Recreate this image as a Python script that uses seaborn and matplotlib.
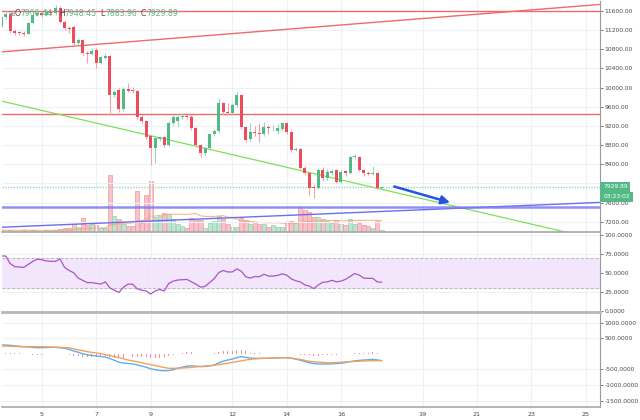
import numpy as np
import pandas as pd
import matplotlib
matplotlib.use("Agg")
import matplotlib.pyplot as plt
import seaborn as sns

# ---- 4h candles, BTC/USD, March 2018 ----
open_px = [11266, 11475, 11540, 11182, 11150, 11140, 11130, 11350, 11516, 11560,
           11520, 11580, 11550, 11660, 11370, 11250, 11266, 10932, 10994, 10723,
           10702, 10786, 10514, 10619, 10660, 9846, 9951, 9554, 9971, 9951,
           9930, 9387, 9303, 8990, 8740, 8927, 8969, 8802, 9262, 9300,
           9387, 9400, 9380, 9157, 8802, 8635, 8740, 9032, 9094, 9670,
           9491, 9470, 9640, 9846, 9178, 8927, 9074, 9060, 9030, 9178,
           9150, 9100, 9137, 9262, 9074, 8698, 8719, 8322, 8218, 7925,
           7904, 8280, 8113, 8218, 8280, 8030, 8259, 8218, 8552, 8552,
           8280, 8218, 8197, 8218, 7906.44]
high_px = [11560, 11600, 11560, 11220, 11190, 11180, 11380, 11560, 11620, 11600,
           11640, 11620, 11725, 11700, 11400, 11280, 11300, 11030, 11020, 10760,
           10800, 10820, 10660, 10720, 10680, 9960, 10000, 10010, 10097, 10020,
           9960, 9420, 9330, 9020, 8980, 9000, 9000, 9300, 9430, 9450,
           9470, 9460, 9420, 9180, 8830, 8770, 9060, 9130, 9780, 9700,
           9680, 9680, 9909, 9870, 9200, 9260, 9200, 9260, 9280, 9220,
           9220, 9240, 9290, 9280, 9090, 8760, 8740, 8360, 8240, 7980,
           8320, 8340, 8300, 8300, 8300, 8280, 8290, 8570, 8614, 8580,
           8300, 8250, 8364, 8240, 7948.45]
low_px = [11240, 11440, 11150, 11100, 11090, 11080, 11110, 11320, 11490, 11480,
          11500, 11520, 11520, 11340, 11200, 11150, 10880, 10900, 10680, 10520,
          10680, 10420, 10490, 10600, 9429, 9800, 9500, 9520, 9900, 9880,
          9350, 9270, 8920, 8385, 8426, 8880, 8760, 8780, 9230, 9200,
          9340, 9350, 9120, 8760, 8560, 8600, 8720, 9000, 9060, 9440,
          9420, 9440, 9600, 9130, 8870, 8880, 9000, 8870, 9000, 9040,
          9100, 9040, 9100, 9040, 8660, 8670, 8300, 8180, 7758, 7696,
          7880, 8060, 8080, 8180, 8000, 8000, 8150, 8200, 8520, 8250,
          8150, 8170, 8180, 7880, 7883.96]
close_px = [11475, 11540, 11182, 11150, 11140, 11130, 11350, 11516, 11560, 11520,
            11580, 11550, 11660, 11370, 11250, 11230, 10932, 10994, 10723, 10702,
            10765, 10514, 10640, 10660, 9846, 9909, 9554, 9971, 9930, 9930,
            9387, 9303, 8969, 8740, 8948, 8969, 8802, 9262, 9387, 9380,
            9400, 9380, 9157, 8802, 8635, 8740, 9032, 9094, 9670, 9491,
            9470, 9637, 9846, 9178, 8906, 9074, 9053, 9030, 9178, 9150,
            9165, 9160, 9262, 9074, 8698, 8719, 8322, 8218, 7904, 7904,
            8280, 8113, 8238, 8259, 8030, 8238, 8218, 8552, 8570, 8280,
            8218, 8197, 8218, 7904, 7929.89]
volume = [2, 1.5, 2, 1.5, 1.5, 2, 1.5, 2, 1.5, 1,
          2, 1.5, 2, 3, 4.5, 4.5, 8, 5, 14, 7,
          8, 7, 4, 4, 57, 16, 13, 8, 6, 6,
          41, 9, 37, 51, 15, 16, 19, 18, 13, 8,
          6, 4, 14, 12, 12, 4, 9, 11, 16, 13,
          8, 5, 5, 14, 12, 8, 10, 8, 8, 5,
          7, 5, 5, 9, 11, 9, 25, 22, 20, 15,
          15, 13, 11, 9, 12, 8, 7, 13, 8, 9,
          7, 6, 4, 11, 2]
rsi = [72, 72, 62, 58, 57.5, 57, 61, 65, 68, 67,
       65.5, 65, 65, 68, 57, 53, 50, 43, 40, 37,
       37, 36, 35, 38, 30, 27, 24, 31, 35, 35,
       29, 27, 26, 22, 26, 28, 26, 36, 39, 40.4,
       40.8, 41.2, 38, 35, 31, 32, 37, 42, 50, 53,
       51, 51, 55, 52, 44.6, 43, 45, 44.7, 48, 45.6,
       45.6, 46.5, 48.5, 47, 42, 39.5, 38, 34, 32.5, 29,
       34, 37.5, 38, 40, 38, 39, 41.3, 45, 49, 47,
       43, 42.6, 42.6, 38, 37.4]
macd = [282, 282, 270, 255, 240, 228, 218, 205, 196, 198,
        202, 206, 208, 195, 178, 140, 90, 50, 0, -30,
        -50, -70, -85, -108, -150, -210, -270, -295, -310, -325,
        -355, -391, -430, -480, -510, -535, -541, -538, -510, -465,
        -430, -395, -385, -395, -410, -405, -390, -360, -290, -235,
        -200, -170, -125, -93, -115, -140, -144, -144, -144, -144,
        -140, -133, -128, -125, -140, -170, -205, -250, -288, -315,
        -327, -327, -327, -322, -312, -304, -280, -250, -228, -212,
        -200, -190, -178, -195, -220]
signal = [250, 245, 240, 235, 230, 228, 228, 228, 228, 226,
          222, 216, 210, 205, 200, 190, 160, 125, 99, 70,
          45, 25, 5, -30, -60, -90, -125, -160, -200, -230,
          -253, -285, -320, -350, -375, -410, -440, -465, -465, -460,
          -452, -445, -435, -420, -405, -393, -385, -370, -345, -325,
          -300, -275, -250, -225, -200, -176, -165, -155, -145, -138,
          -132, -128, -125, -125, -140, -165, -180, -210, -240, -255,
          -268, -278, -285, -285, -280, -270, -260, -253, -245, -238,
          -230, -225, -221, -221, -221]

# drawn trendlines (day of month, price)
red_rise_days = [3.46, 25.51]
red_rise_px = [10744, 11736]
red_top_level = 11600
red_mid_level = 9443
green_days = [3.46, 25.51]
green_px = [9727, 6821]
blue_rise_days = [3.46, 25.51]
blue_rise_px = [7084, 7604]
blue_flat_level = 7514
arrow_days = [17.86, 20.11]
arrow_px = [7952, 7585]

price_ticks = [7200, 7600, 8000, 8400, 8800, 9200, 9600, 10000, 10400, 10800, 11200, 11600]
rsi_ticks = [0, 25, 50, 75, 100]
macd_ticks = [-1500, -1000, -500, 500, 1000]
day_ticks = [5, 7, 9, 12, 14, 16, 19, 21, 23, 25]

times = pd.date_range("2018-03-03 12:00", periods=len(close_px), freq="4h")
df = pd.DataFrame({"day": times.day + times.hour / 24.0,
                   "open": open_px, "high": high_px, "low": low_px,
                   "close": close_px, "volume": volume,
                   "rsi": rsi, "macd": macd, "signal": signal})
df["up"] = df["close"] >= df["open"]
df["vol_ma"] = df["volume"].rolling(20, min_periods=1).mean()
df["hist"] = df["macd"] - df["signal"]

UP, DOWN = "#53b987", "#eb4d5c"
GRID = "#edf1f5"
TXT = "#4a4a4a"

sns.set_style("white")
plt.rcParams["font.family"] = ["DejaVu Sans"]

fig = plt.figure(figsize=(6.4, 4.2), dpi=100)
ax = fig.add_axes([0.003, 0.4476, 0.934, 0.550])
ax_rsi = fig.add_axes([0.003, 0.2571, 0.934, 0.188], sharex=ax)
ax_macd = fig.add_axes([0.003, 0.031, 0.934, 0.2214], sharex=ax)

# ---- volume (behind candles) ----
vol_ax = ax.twinx()
ax.set_zorder(vol_ax.get_zorder() + 1)
ax.patch.set_visible(False)
vcol = np.where(df["up"], "#bfe5d0", "#f7c2c8")
vedge = np.where(df["up"], "#8fd0ad", "#ef98a2")
vol_ax.bar(df["day"], df["volume"], width=0.15, color=vcol, edgecolor=vedge, linewidth=0.5)
sns.lineplot(x="day", y="vol_ma", data=df, ax=vol_ax, color="#f7a46b", linewidth=0.8, alpha=0.8)
vol_ax.set_ylim(0, 231)
vol_ax.set_yticks([])
vol_ax.set_ylabel("")
for s in vol_ax.spines.values():
    s.set_visible(False)

# ---- candles ----
body_lo = np.minimum(df["open"], df["close"])
body_h = np.maximum(np.abs(df["close"] - df["open"]), 18)
ccol = np.where(df["up"], UP, DOWN)
wcol = np.where(df["up"], "#9fd6b9", "#f2a3ab")
ax.vlines(df["day"], df["low"], df["high"], colors=wcol, linewidth=0.8, zorder=3)
ax.bar(df["day"], body_h, bottom=body_lo, width=0.11, color=ccol, linewidth=0, zorder=4)

# ---- trendlines ----
ax.axhline(red_top_level, color="#ef6a6a", linewidth=1.0, zorder=2)
ax.axhline(red_mid_level, color="#ef6a6a", linewidth=1.0, zorder=2)
ax.plot(red_rise_days, red_rise_px, color="#ef6a6a", linewidth=1.0, zorder=2)
ax.plot(green_days, green_px, color="#7ee05a", linewidth=0.9, zorder=2)
ax.plot(blue_rise_days, blue_rise_px, color="#6d6df2", linewidth=1.0, zorder=2)
ax.axhline(blue_flat_level, color="#7b7bf4", linewidth=1.8, alpha=0.85, zorder=2)
ax.axhline(close_px[-1], color="#9ad6b3", linewidth=1.0, linestyle=(0, (1, 1)), zorder=2)
ax.annotate("", xy=(arrow_days[1], arrow_px[1]), xytext=(arrow_days[0], arrow_px[0]),
            arrowprops=dict(arrowstyle="-|>,head_length=0.5,head_width=0.25",
                            color="#2455e0", linewidth=1.8), zorder=5)

ax.set_ylim(6986, 11809)
ax.set_xlim(3.529, 25.515)
ax.set_yticks(price_ticks)
# the 8000 label sits under the last-price box, as on the original
ax.set_yticklabels(["" if v == 8000 else f"{v:.2f}" for v in price_ticks])
ax.set_ylabel("")
ax.set_xlabel("")

# last price and countdown boxes
ax.annotate(f"{close_px[-1]:.2f}", xy=(1, close_px[-1]), xycoords=("axes fraction", "data"),
            xytext=(2.5, 0), textcoords="offset points", ha="left", va="center",
            fontsize=4.3, color="white", annotation_clip=False, zorder=10,
            bbox=dict(boxstyle="square,pad=0.45", fc=UP, ec="none"))
ax.annotate("03:23:02", xy=(1, close_px[-1]), xycoords=("axes fraction", "data"),
            xytext=(2.5, -7.3), textcoords="offset points", ha="left", va="center",
            fontsize=4.3, color="white", annotation_clip=False, zorder=10,
            bbox=dict(boxstyle="square,pad=0.45", fc=UP, ec="none"))

# ---- RSI ----
ax_rsi.axhspan(30, 70, color="#f3e5fc", zorder=0)
ax_rsi.axhline(70, color="#b8b8b8", linewidth=0.7, linestyle=(0, (3, 2)))
ax_rsi.axhline(30, color="#b8b8b8", linewidth=0.7, linestyle=(0, (3, 2)))
sns.lineplot(x="day", y="rsi", data=df, ax=ax_rsi, color="#a855c8", linewidth=0.9)
ax_rsi.set_ylim(-1.7, 102.2)
ax_rsi.set_yticks(rsi_ticks)
ax_rsi.set_yticklabels([f"{v:.4f}" for v in rsi_ticks])
ax_rsi.set_ylabel("")
ax_rsi.set_xlabel("")

# ---- MACD ----
ax_macd.bar(df["day"], df["hist"], width=0.035, color="#f08da0", linewidth=0)
sns.lineplot(x="day", y="macd", data=df, ax=ax_macd, color="#5aaff2", linewidth=1.0)
sns.lineplot(x="day", y="signal", data=df, ax=ax_macd, color="#f5a05a", linewidth=1.0)
ax_macd.set_ylim(-1705, 1276)
ax_macd.set_yticks(macd_ticks)
ax_macd.set_yticklabels([f"{v:.4f}" for v in macd_ticks])
ax_macd.set_ylabel("")
ax_macd.set_xlabel("")
ax_macd.set_xticks(day_ticks)
ax_macd.set_xticklabels([str(d) for d in day_ticks])

# ---- common styling ----
for a in (ax, ax_rsi, ax_macd):
    a.yaxis.tick_right()
    a.grid(True, color=GRID, linewidth=0.8)
    a.set_axisbelow(True)
    a.tick_params(axis="y", labelsize=4.3, colors=TXT, length=2, width=0.5, pad=1.5)
    a.tick_params(axis="x", labelsize=4.6, colors=TXT, length=2, width=0.5, pad=1.5)
    for side in ("top", "left"):
        a.spines[side].set_visible(False)
    a.spines["right"].set_color("#9a9a9a")
    a.spines["right"].set_linewidth(0.8)
    a.spines["bottom"].set_color("#a8a8a8")
    a.spines["bottom"].set_linewidth(1.2)
ax.tick_params(axis="x", labelbottom=False, length=0)
ax_rsi.tick_params(axis="x", labelbottom=False, length=0)
ax_rsi.spines["bottom"].set_linewidth(2.0)
ax_rsi.spines["bottom"].set_color("#b8b8b8")

# ---- OHLC header ----
hy = 1 - 13.5 / 420
fig.text(8 / 640, hy, "\u229e", fontsize=5.5, color="#8a8a8a", va="center")
for lx, lab, val in [(15, "O", open_px[-1]), (59, "H", high_px[-1]),
                     (100, "L", low_px[-1]), (141, "C", close_px[-1])]:
    fig.text(lx / 640, hy, lab, fontsize=5.6, color=TXT, va="center")
    fig.text((lx + 5.5) / 640, hy, f"{val:.2f}", fontsize=5.6, color=UP, va="center")

fig.savefig("out.png", dpi=100)
